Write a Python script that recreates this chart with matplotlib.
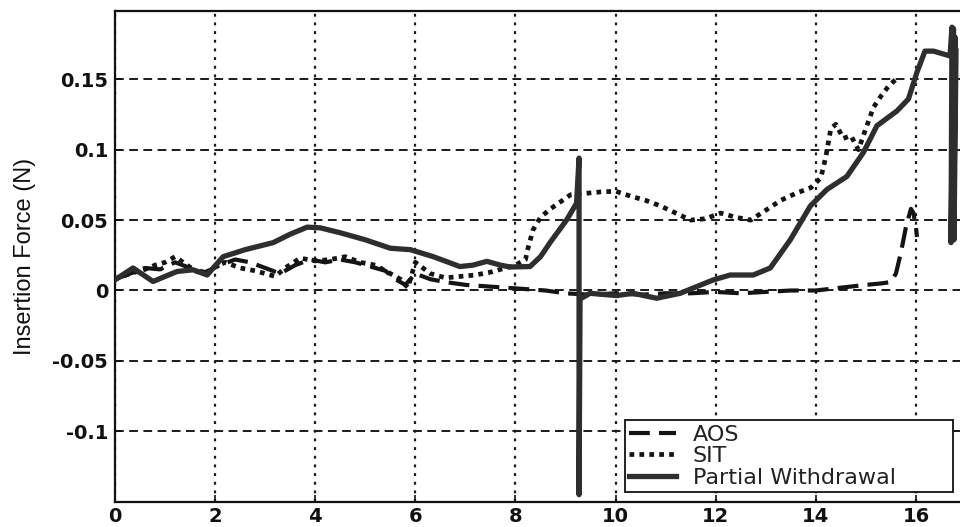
import matplotlib
matplotlib.use("Agg")
import matplotlib.pyplot as plt

# ---------------- data ----------------
aos_x = [0, 0.3, 0.6, 0.9, 1.2, 1.5, 1.8, 2.1, 2.4, 2.7, 3.0, 3.3, 3.6, 3.9, 4.2, 4.5,
         4.8, 5.1, 5.4, 5.6, 5.8, 6.0, 6.3, 6.6, 7.0, 7.4, 7.8, 8.2, 8.6, 9.0, 9.5, 10.0,
         10.5, 11.0, 11.5, 12.0, 12.5, 13.0, 13.5, 14.0, 14.5, 15.0, 15.3, 15.5, 15.6,
         15.7, 15.8, 15.9, 15.95, 16.0, 16.02]
aos_y = [0.008, 0.012, 0.016, 0.015, 0.020, 0.016, 0.013, 0.018, 0.022, 0.020, 0.016,
         0.012, 0.018, 0.022, 0.020, 0.022, 0.020, 0.017, 0.014, 0.008, 0.004, 0.012,
         0.008, 0.006, 0.004, 0.003, 0.002, 0.001, 0.000, -0.002, -0.003, -0.002, -0.003,
         -0.002, -0.002, -0.001, -0.002, -0.001, 0.000, 0.000, 0.002, 0.004, 0.005, 0.006,
         0.012, 0.027, 0.045, 0.058, 0.055, 0.045, 0.038]

sit_x = [0, 0.3, 0.6, 0.8, 1.0, 1.2, 1.4, 1.6, 1.8, 2.0, 2.2, 2.5, 2.8, 3.0, 3.2, 3.4,
         3.7, 4.0, 4.3, 4.6, 4.9, 5.2, 5.5, 5.7, 5.85, 6.0, 6.3, 6.6, 6.9, 7.2, 7.5, 7.8,
         8.0, 8.2, 8.25, 8.35, 8.5, 8.7, 8.9, 9.1, 9.4, 9.7, 10.0, 10.3, 10.6, 10.9, 11.2,
         11.5, 11.8, 12.1, 12.4, 12.7, 13.0, 13.3, 13.6, 13.9, 14.1, 14.2, 14.3, 14.4,
         14.55, 14.7, 14.85, 15.0, 15.15, 15.3, 15.45, 15.6]
sit_y = [0.008, 0.012, 0.015, 0.018, 0.020, 0.024, 0.019, 0.014, 0.012, 0.017, 0.020,
         0.016, 0.014, 0.012, 0.010, 0.016, 0.023, 0.021, 0.022, 0.024, 0.020, 0.018,
         0.012, 0.008, 0.002, 0.020, 0.012, 0.009, 0.010, 0.011, 0.013, 0.016, 0.018,
         0.022, 0.030, 0.043, 0.052, 0.058, 0.063, 0.068, 0.069, 0.070, 0.0705, 0.067,
         0.064, 0.060, 0.055, 0.050, 0.051, 0.055, 0.052, 0.050, 0.057, 0.064, 0.069,
         0.073, 0.080, 0.095, 0.115, 0.118, 0.108, 0.110, 0.100, 0.115, 0.130, 0.138,
         0.145, 0.150]

pw_x = [0, 0.36, 0.76, 1.0, 1.24, 1.56, 1.84, 2.16, 2.6, 3.16, 3.5, 3.84, 4.1, 4.5, 5.0,
        5.5, 5.9, 6.36, 6.89, 7.15, 7.43, 7.7, 7.89, 8.29, 8.5, 8.69, 9.02, 9.22, 9.27,
        9.27, 9.29, 9.49, 10.02, 10.35, 10.82, 11.29, 11.95, 12.29, 12.75, 13.09, 13.49,
        13.89, 14.22, 14.62, 14.95, 15.22, 15.62, 15.85, 16.02, 16.18, 16.35, 16.68,
        16.72, 16.70, 16.75, 16.73, 16.78, 16.76, 16.80]
pw_y = [0.0076, 0.016, 0.0064, 0.010, 0.0135, 0.0147, 0.011, 0.024, 0.029, 0.034, 0.040,
        0.045, 0.0445, 0.041, 0.036, 0.030, 0.029, 0.024, 0.017, 0.018, 0.0207, 0.018,
        0.0167, 0.017, 0.024, 0.034, 0.050, 0.062, 0.094, -0.145, -0.006, -0.002,
        -0.0036, -0.002, -0.0055, -0.002, 0.0075, 0.011, 0.011, 0.016, 0.036, 0.060,
        0.0717, 0.081, 0.098, 0.117, 0.1275, 0.136, 0.155, 0.170, 0.170, 0.1666, 0.187,
        0.034, 0.186, 0.040, 0.180, 0.036, 0.170]

x_ticks = [0, 2, 4, 6, 8, 10, 12, 14, 16]
y_ticks = [-0.1, -0.05, 0, 0.05, 0.1, 0.15]
y_tick_labels = ["-0.1", "-0.05", "0", "0.05", "0.1", "0.15"]
series_labels = ["AOS", "SIT", "Partial Withdrawal"]
y_label = "Insertion Force (N)"

# ---------------- figure ----------------
fig = plt.figure(figsize=(9.6, 5.27), dpi=100)
ax = fig.add_axes([115 / 960, 1 - 501.7 / 527, 845 / 960, (501.7 - 11) / 527])

ax.set_xlim(0, 16.88)
ax.set_ylim(-0.15, 0.1985)

ax.plot(aos_x, aos_y, color="#141414", lw=3.0, linestyle=(0, (5, 2.2)),
        dash_capstyle="butt", label=series_labels[0], zorder=3)
ax.plot(sit_x, sit_y, color="#141414", lw=3.4, linestyle=(0, (1, 1.1)),
        dash_capstyle="butt", label=series_labels[1], zorder=3)
ax.plot(pw_x, pw_y, color="#2e2e2e", lw=3.8, linestyle="-",
        solid_joinstyle="round", label=series_labels[2], zorder=4)

ax.set_xticks(x_ticks)
ax.set_xticklabels([str(t) for t in x_ticks])
ax.set_yticks(y_ticks)
ax.set_yticklabels(y_tick_labels)

for lab in ax.get_xticklabels() + ax.get_yticklabels():
    lab.set_fontfamily("DejaVu Sans")
    lab.set_fontweight("bold")
    lab.set_fontsize(14)
    lab.set_color("#111111")

ax.tick_params(axis="both", direction="in", length=5, width=1.2, color="#111111")
ax.tick_params(axis="y", pad=5)
ax.tick_params(axis="x", pad=4)

ax.xaxis.grid(True, linestyle=(0, (1.3, 2.6)), color="#1a1a1a", lw=1.6)
ax.yaxis.grid(True, linestyle=(0, (4.5, 2.8)), color="#1a1a1a", lw=1.4)
ax.set_axisbelow(True)

for side in ["left", "bottom", "top"]:
    ax.spines[side].set_linewidth(1.6)
    ax.spines[side].set_color("#111111")
ax.spines["right"].set_visible(False)

ax.set_ylabel(y_label, fontsize=17, family="Liberation Sans", color="#111111")
ax.yaxis.set_label_coords(-0.093, 0.5)

leg_x0 = (625 - 115) / 845
leg_w = (953 - 625) / 845
leg = ax.legend(loc="lower left", bbox_to_anchor=(leg_x0, 0.0198, leg_w, 0.15),
                mode="expand", borderaxespad=0,
                frameon=True, fancybox=False, framealpha=1, edgecolor="#111111",
                prop={"family": "DejaVu Sans", "size": 16}, handlelength=2.1,
                handletextpad=0.75, labelspacing=0.06, borderpad=0.2)
leg.get_frame().set_linewidth(1.3)
for t in leg.get_texts():
    t.set_color("#222222")

fig.savefig("out.png", dpi=100, facecolor="white")
